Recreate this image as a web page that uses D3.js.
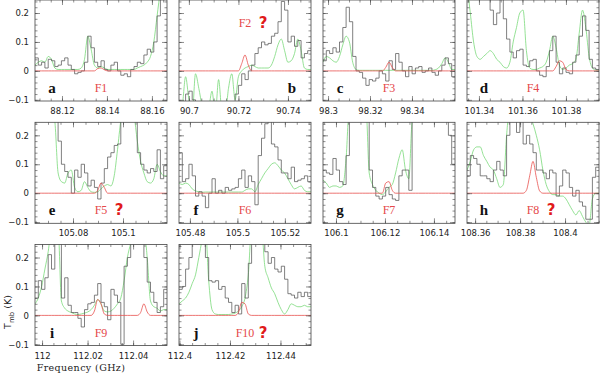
<!DOCTYPE html>
<html>
<head>
<meta charset="utf-8">
<script src="https://cdn.jsdelivr.net/npm/d3@7"></script>
<style>
body { margin: 0; background: #fff; }
svg { display: block; }
</style>
</head>
<body>
<script>
'use strict';

// panel letters and the feature each panel is about
var letters = ["a", "b", "c", "d", "e", "f", "g", "h", "i", "j"];
var features = ["F1", "F2", "F3", "F4", "F5", "F6", "F7", "F8", "F9", "F10"];
var doubtful = [false, true, false, false, true, false, false, true, false, true];

// frequency range of each panel (GHz)
var freqLo = [88.108, 90.696, 98.2976, 101.3345, 105.0648, 105.4754, 106.0947, 108.3564, 111.9969, 112.3998];
var freqHi = [88.1667, 90.7493, 98.3605, 101.3952, 105.1176, 105.5310, 106.1486, 108.4151, 112.0549, 112.4521];

// labelled frequency ticks
var freqTicks = [
  [88.12, 88.14, 88.16], [90.7, 90.72, 90.74], [98.3, 98.32, 98.34], [101.34, 101.36, 101.38],
  [105.08, 105.1], [105.48, 105.5, 105.52], [106.1, 106.12, 106.14], [108.36, 108.38, 108.4],
  [112, 112.02, 112.04], [112.4, 112.42, 112.44]
];
var tempTicks = [-0.1, 0, 0.1, 0.2];

// observed spectra, Tmb (K), 40 channels across each panel
var observed = [
  [0.045,0.02,0.03,0.01,0.04,0.035,0.015,0.02,0.035,0.045,0.02,0.005,-0.01,-0.005,0.0,0.03,0.12,0.08,0.03,0.015,0.035,0.005,0.0,0.02,0.03,0.0,-0.015,-0.01,-0.02,0.005,0.015,0.03,0.025,0.055,0.075,0.065,0.1,0.19,0.26,0.3],
  [-0.12,-0.11,-0.08,-0.07,-0.1,-0.12,-0.13,-0.12,-0.13,-0.11,-0.12,-0.13,-0.12,-0.12,-0.13,-0.12,-0.11,-0.08,-0.05,-0.01,-0.03,0.0,0.02,0.06,0.08,0.1,0.09,0.095,0.12,0.13,0.17,0.24,0.21,0.1,0.12,0.085,0.105,0.045,0.06,0.07],
  [0.035,0.07,0.06,0.08,0.065,0.1,0.15,0.22,0.17,0.05,0.0,-0.005,-0.025,-0.05,-0.03,-0.035,-0.025,0.0,-0.01,-0.035,0.035,0.005,0.06,0.03,0.0,-0.02,0.015,-0.01,0.01,0.015,-0.005,0.0,0.01,-0.005,-0.015,0.0,0.02,0.045,0.025,-0.02],
  [0.3,0.3,0.3,0.3,0.3,0.3,0.27,0.21,0.16,0.2,0.25,0.18,0.11,0.065,0.045,0.07,0.075,0.02,0.015,0.035,0.04,0.0,-0.015,-0.02,0.015,0.07,0.12,0.03,-0.01,0.01,-0.005,-0.01,0.03,0.055,0.12,0.19,0.14,0.04,0.01,0.005],
  [0.3,0.3,0.3,0.3,0.3,0.3,0.26,0.18,0.1,0.075,0.055,0.0,0.08,0.055,0.1,0.07,0.025,0.045,0.02,-0.02,0.035,0.085,0.125,0.14,0.165,0.17,0.3,0.3,0.3,0.3,0.26,0.14,0.1,0.08,0.07,0.085,0.075,0.15,0.05,0.095],
  [0.14,0.04,0.05,0.1,0.06,-0.01,0.005,-0.01,-0.05,0.0,0.05,0.0,0.01,0.0,0.02,0.01,0.015,0.02,0.05,0.08,0.02,0.06,0.04,-0.04,0.13,0.19,0.24,0.3,0.17,0.16,0.115,0.07,0.07,0.05,0.09,0.04,0.045,0.05,0.06,0.04],
  [0.08,0.07,0.065,0.12,0.08,0.04,0.03,0.13,0.3,0.3,0.3,0.3,0.3,0.3,0.08,0.02,-0.01,-0.02,-0.01,0.02,-0.005,-0.02,-0.025,0.06,0.08,0.08,0.01,0.3,0.3,0.3,0.3,0.3,0.3,0.3,0.3,0.3,0.3,0.3,0.2,0.1],
  [0.06,0.13,0.12,0.1,0.06,0.06,0.05,0.04,0.08,0.11,0.08,0.06,0.2,0.26,0.3,0.21,0.25,0.17,0.2,0.17,0.14,0.08,0.08,0.07,0.05,0.08,0.07,-0.01,0.025,0.08,0.07,0.02,-0.01,0.01,-0.03,-0.045,-0.09,-0.09,0.055,0.09],
  [0.06,0.12,0.09,0.13,0.21,0.16,0.3,0.3,0.06,0.13,0.035,0.01,0.01,-0.01,-0.04,0.02,0.04,0.045,0.07,0.11,0.045,0.03,-0.015,0.09,0.07,0.045,-0.1,0.17,0.2,0.27,0.3,0.3,0.3,0.2,0.115,0.08,0.045,0.01,0.03,0.09],
  [0.09,0.1,0.16,0.2,0.25,0.3,0.3,0.3,0.2,0.12,0.115,0.12,0.09,0.1,0.06,0.045,0.01,0.035,0.005,0.11,0.06,0.18,0.3,0.3,0.3,0.3,0.22,0.18,0.2,0.16,0.15,0.17,0.125,0.075,0.07,0.06,0.08,0.065,0.08,0.065]
];

// full model of all known species (green)
var modelAll = [
  [0.02,0.03,0.035,0.03,0.05,0.04,0.01,0.005,0.005,0.005,0.005,0.005,0.005,0.005,0.01,0.04,0.12,0.075,0.02,0.01,0.015,0.01,0.005,0.005,0.005,0.005,0.005,0.005,0.005,0.005,0.005,0.01,0.015,0.02,0.03,0.05,0.1,0.19,0.28,0.35],
  [-0.15,-0.12,-0.02,-0.1,-0.15,-0.01,-0.06,-0.12,-0.15,-0.13,-0.07,-0.15,-0.03,-0.14,-0.15,-0.06,-0.01,-0.1,-0.02,0.0,0.01,0.015,0.02,0.015,0.01,0.01,0.01,0.01,0.02,0.05,0.09,0.11,0.07,0.03,0.035,0.06,0.11,0.07,0.01,0.005],
  [0.03,0.05,0.045,0.035,0.03,0.05,0.09,0.12,0.1,0.03,0.005,0.002,0.002,0.002,0.002,0.002,0.002,0.002,0.002,0.002,0.002,0.002,0.002,0.002,0.002,0.002,0.002,0.002,0.002,0.002,0.002,0.002,0.002,0.002,0.004,0.01,0.025,0.045,0.03,0.005],
  [0.3,0.2,0.1,0.05,0.04,0.05,0.06,0.07,0.06,0.04,0.03,0.015,0.01,0.03,0.1,0.15,0.2,0.21,0.07,0.01,0.005,0.005,0.01,0.015,0.03,0.07,0.12,0.08,0.02,0.005,0.01,0.02,0.025,0.04,0.13,0.21,0.15,0.05,0.01,0.003],
  [0.3,0.3,0.3,0.3,0.3,0.3,0.25,0.07,0.04,0.035,0.07,0.08,0.02,0.005,0.01,0.04,0.02,0.005,0.003,0.005,0.015,0.025,0.03,0.025,0.06,0.15,0.25,0.3,0.3,0.3,0.27,0.18,0.11,0.07,0.04,0.035,0.05,0.1,0.075,0.06],
  [0.035,0.03,0.035,0.03,0.015,0.008,0.005,0.003,0.004,0.004,0.004,0.004,0.004,0.004,0.004,0.004,0.004,0.004,0.004,0.004,0.01,0.015,0.015,0.005,0.03,0.05,0.07,0.085,0.1,0.105,0.095,0.08,0.07,0.05,0.03,0.015,0.02,0.025,0.01,0.005],
  [0.045,0.035,0.02,0.025,0.025,0.02,0.025,0.12,0.3,0.3,0.3,0.3,0.3,0.3,0.07,0.03,0.01,0.0,-0.005,0.005,0.02,0.03,0.07,0.12,0.15,0.08,0.05,0.25,0.3,0.3,0.3,0.3,0.3,0.3,0.3,0.3,0.3,0.3,0.3,0.28],
  [0.08,0.11,0.15,0.16,0.16,0.13,0.11,0.09,0.08,0.05,0.02,0.03,0.2,0.3,0.3,0.26,0.3,0.3,0.3,0.27,0.24,0.2,0.15,0.08,0.03,0.005,-0.005,-0.005,-0.01,-0.01,-0.02,-0.04,-0.06,-0.075,-0.06,-0.08,-0.1,-0.11,-0.02,0.0],
  [0.04,0.06,0.1,0.16,0.22,0.3,0.3,0.3,0.05,0.025,0.015,0.01,0.005,0.003,0.005,0.008,0.012,0.02,0.035,0.055,0.04,0.015,0.012,0.015,0.025,0.04,0.06,0.12,0.2,0.25,0.3,0.3,0.3,0.3,0.2,0.05,0.03,0.025,0.015,0.02],
  [0.04,0.05,0.06,0.08,0.11,0.14,0.2,0.26,0.3,0.12,0.02,0.005,0.003,0.003,0.003,0.003,0.005,0.008,0.015,0.03,0.06,0.14,0.3,0.3,0.3,0.3,0.17,0.13,0.095,0.075,0.045,0.02,0.005,0.02,0.04,0.035,0.03,0.03,0.035,0.03]
];

// model of the new species alone (red)
var modelNew = [
  [0,0,0,0,0,0,0,0,0,0,0,0,0,0,0,0,0,0,0,0.008,0.01,0.004,0,0,0,0,0,0,0,0,0,0,0,0,0,0,0,0,0,0],
  [0,0,0,0,0,0,0,0,0,0,0,0,0,0,0,0,0,0,0,0.025,0.055,0.02,0,0,0,0,0,0,0,0,0,0,0,0,0,0,0,0,0,0],
  [0,0,0,0,0,0,0,0,0,0,0,0,0,0,0,0,0,0,0,0.012,0.03,0.012,0,0,0,0,0,0,0,0,0,0,0,0,0,0,0,0,0,0],
  [0,0,0,0,0,0,0,0,0,0,0,0,0,0,0,0,0,0,0,0,0,0,0,0,0,0,0,0.015,0.035,0.03,0.005,0,0,0,0,0,0,0,0,0],
  [0,0,0,0,0,0,0,0,0,0,0,0,0,0,0,0,0,0,0,0.01,0.035,0.02,0,0,0,0,0,0,0,0,0,0,0,0,0,0,0,0,0,0],
  [0,0,0,0,0,0,0,0,0,0,0,0,0,0,0,0,0,0,0,0,0,0,0,0,0,0,0,0,0,0,0,0,0,0,0,0,0,0,0,0],
  [0,0,0,0,0,0,0,0,0,0,0,0,0,0,0,0,0,0,0,0.035,0.04,0.01,0,0,0,0,0,0,0,0,0,0,0,0,0,0,0,0,0,0],
  [0,0,0,0,0,0,0,0,0,0,0,0,0,0,0,0,0,0,0.01,0.06,0.11,0.055,0.008,0,0,0,0,0,0,0,0,0,0,0,0,0,0,0,0,0],
  [0,0,0,0,0,0,0,0,0,0,0,0,0,0,0,0,0,0,0.015,0.055,0.04,0.005,0,0,0,0,0,0,0,0,0,0,0.01,0.04,0.012,0,0,0,0,0],
  [0,0,0,0,0,0,0,0,0,0,0,0,0,0,0,0,0,0,0.01,0.045,0.04,0.005,0,0,0,0,0,0,0,0,0,0,0,0,0,0,0,0,0,0]
];

// layout
var pw = 132, ph = 101;
var rowTop = [0, 122.3, 244.5];
var tickFont = "DejaVu Sans";

var svg = d3.select("body").append("svg")
  .attr("width", 600)
  .attr("height", 375);

var y = d3.scaleLinear().domain([-0.104, 0.245]).range([ph, 0]);

// channels -> points; the last channel is closed at the panel edge
function channels(vals, k) {
  var n = vals.length, step = (freqHi[k] - freqLo[k]) / n;
  var pts = vals.map(function(v, i) { return {f: freqLo[k] + i * step, t: v}; });
  pts.push({f: freqHi[k], t: vals[n - 1]});
  return pts;
}

function gridValues(lo, hi, d) {
  return d3.range(Math.ceil(lo / d - 1e-6), Math.floor(hi / d + 1e-6) + 1).map(function(i) { return i * d; });
}

function styleAxis(sel) {
  sel.select(".domain").remove();
  sel.selectAll(".tick line").attr("stroke", "#444").attr("stroke-width", 0.6);
  sel.selectAll(".tick text")
    .attr("font-family", tickFont)
    .attr("font-size", "8.5px")
    .attr("fill", "#222");
}

letters.forEach(function(letter, k) {
  var col = k % 4, row = Math.floor(k / 4);
  var left = 35 + col * 144, top = rowTop[row];
  var x = d3.scaleLinear().domain([freqLo[k], freqHi[k]]).range([0, pw]);

  var g = svg.append("g").attr("transform", "translate(" + left + "," + top + ")");

  g.append("clipPath").attr("id", "clip" + k)
    .append("rect").attr("width", pw).attr("height", ph);
  var plot = g.append("g").attr("clip-path", "url(#clip" + k + ")");

  var smooth = d3.line()
    .x(function(d) { return x(d.f); })
    .y(function(d) { return y(d.t); })
    .curve(d3.curveMonotoneX);
  var steps = d3.line()
    .x(function(d) { return x(d.f); })
    .y(function(d) { return y(d.t); })
    .curve(d3.curveStepAfter);

  plot.append("path")
    .attr("d", smooth(channels(modelAll[k], k)))
    .attr("fill", "none").attr("stroke", "#7ad97a").attr("stroke-width", 0.8);
  plot.append("path")
    .attr("d", steps(channels(observed[k], k)))
    .attr("fill", "none").attr("stroke", "#555").attr("stroke-width", 0.75);
  plot.append("path")
    .attr("d", smooth(channels(modelNew[k], k)))
    .attr("fill", "none").attr("stroke", "#e8524f").attr("stroke-width", 0.8);

  // ticks on all four sides, pointing inwards
  var xMinor = gridValues(freqLo[k], freqHi[k], 0.005);
  var yMinor = gridValues(-0.104, 0.245, 0.02);

  g.append("g").attr("transform", "translate(0," + ph + ")")
    .call(d3.axisBottom(x).tickValues(xMinor).tickSize(-2.5).tickFormat(""))
    .call(styleAxis);
  g.append("g").attr("transform", "translate(0," + ph + ")")
    .call(d3.axisBottom(x).tickValues(freqTicks[k]).tickSize(-5).tickPadding(7)
      .tickFormat(d3.format("~f")))
    .call(styleAxis);
  g.append("g")
    .call(d3.axisTop(x).tickValues(xMinor).tickSize(-2.5).tickFormat(""))
    .call(styleAxis);
  g.append("g")
    .call(d3.axisTop(x).tickValues(freqTicks[k]).tickSize(-5).tickFormat(""))
    .call(styleAxis);

  g.append("g")
    .call(d3.axisLeft(y).tickValues(yMinor).tickSize(-2.5).tickFormat(""))
    .call(styleAxis);
  g.append("g")
    .call(d3.axisLeft(y).tickValues(tempTicks).tickSize(-5).tickPadding(6)
      .tickFormat(col === 0 ? d3.format("~f") : ""))
    .call(styleAxis);
  g.append("g").attr("transform", "translate(" + pw + ",0)")
    .call(d3.axisRight(y).tickValues(yMinor).tickSize(-2.5).tickFormat(""))
    .call(styleAxis);
  g.append("g").attr("transform", "translate(" + pw + ",0)")
    .call(d3.axisRight(y).tickValues(tempTicks).tickSize(-5).tickFormat(""))
    .call(styleAxis);

  g.append("rect")
    .attr("width", pw).attr("height", ph)
    .attr("fill", "none").attr("stroke", "#444").attr("stroke-width", 0.8);

  // panel letter
  g.append("text")
    .attr("x", k === 1 ? 113 : 17)
    .attr("y", 93)
    .attr("text-anchor", "middle")
    .attr("font-family", "Liberation Serif")
    .attr("font-weight", "bold")
    .attr("font-size", "15px")
    .attr("fill", "#111")
    .text(letter);

  // feature label, with a question mark where the assignment is doubtful
  var fy = k === 1 ? 27 : 92;
  g.append("text")
    .attr("x", 66).attr("y", fy)
    .attr("text-anchor", "middle")
    .attr("font-family", "Liberation Serif")
    .attr("font-size", "12px")
    .attr("fill", "#e5484a")
    .text(features[k]);
  if (doubtful[k]) {
    g.append("text")
      .attr("x", 84).attr("y", fy + 1)
      .attr("text-anchor", "middle")
      .attr("font-family", "DejaVu Sans")
      .attr("font-weight", "bold")
      .attr("font-size", "15px")
      .attr("fill", "#e01b1b")
      .text("?");
  }
});

// axis titles
var tmb = svg.append("text")
  .attr("transform", "translate(11,312) rotate(-90)")
  .attr("text-anchor", "middle")
  .attr("font-family", tickFont)
  .attr("font-size", "9.5px")
  .attr("fill", "#222");
tmb.append("tspan").text("T");
tmb.append("tspan").attr("font-size", "7px").attr("dy", 2.5).text("mb");
tmb.append("tspan").attr("dy", -2.5).text(" (K)");

svg.append("text")
  .attr("x", 81).attr("y", 371)
  .attr("text-anchor", "middle")
  .attr("font-family", "DejaVu Serif")
  .attr("font-size", "9.5px")
  .attr("letter-spacing", "0.4px")
  .attr("fill", "#222")
  .text("Frequency (GHz)");
</script>
</body>
</html>
